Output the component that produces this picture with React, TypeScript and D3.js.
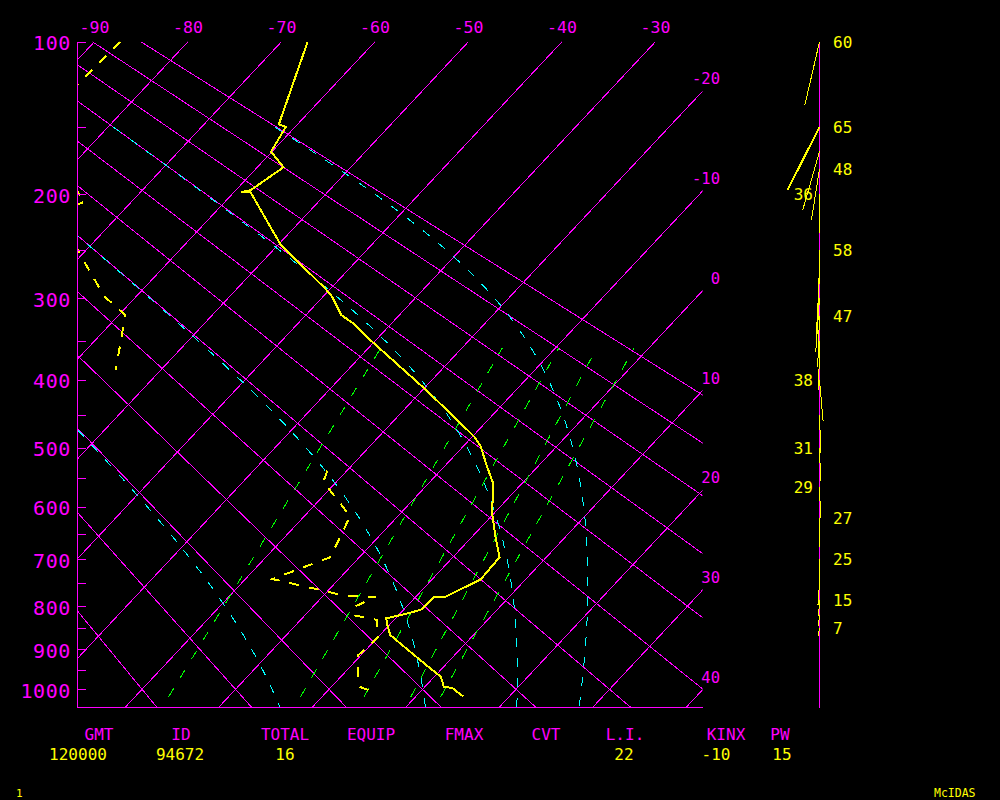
import React from 'react';
import * as d3 from 'd3';

// ---------------- data ----------------
const pressureTicks = [100, 150, 200, 250, 300, 350, 400, 450, 500, 550, 600, 650, 700, 750, 800, 850, 900, 950, 1000];
const pressureLabels = [100, 200, 300, 400, 500, 600, 700, 800, 900, 1000];
const isotherms = [-90, -80, -70, -60, -50, -40, -30, -20, -10, 0, 10, 20, 30, 40];
const dryAdiabats = [-20, -10, 0, 10, 20, 30, 40, 50, 60, 70, 80, 90]; // theta, deg C
const saturatedAdiabats = [0, 30, 60, 90]; // theta-e, deg C
const mixingRatios = [1, 3, 5, 7, 9]; // g/kg
const mixTopT = [-28.7, -15.7, -9.65, -5.6, -1.6]; // at 358 hPa
const mixBottomT = [-16.4, -2.3, 4.5, 9.5, 12.7]; // at 1020 hPa

const tempP = [100, 148.1, 149.7, 167.1, 178.7, 196.6, 198.5, 198.6, 245.2, 289.3, 298.4, 318.9, 330.5, 348.6, 411.5, 456.9, 482.3, 496.8, 533, 558.4, 611.7, 655.7, 696.3, 741.7, 778.7, 778.8, 806.7, 814.4, 827.1, 842.4, 865.6, 905.4, 950.6, 967.5, 993, 997.2, 1019.1];
const tempT = [-67.2, -62.0, -61.0, -60.1, -57.2, -58.4, -59.2, -58.2, -49.7, -40.6, -39.0, -36.2, -33.7, -30.6, -20.0, -13.3, -9.8, -8.2, -5.2, -3.1, -0.2, 2.5, 5.0, 5.2, 3.2, 2.0, 1.9, 1.0, -1.0, -0.2, 1.1, 4.9, 9.1, 10.7, 12.0, 13.1, 15.1];

const dewP = [100, 130, 150, 185, 198, 206, 225, 240, 250, 265, 298, 319, 387, 450, 537, 556, 617, 696, 741, 777, 779, 802, 822, 824, 831, 847, 866, 887, 914, 978, 994, 1002];
const dewT = [-87.2, -87.6, -92, -84, -76.8, -75.0, -78, -76, -70.9, -68.5, -63.4, -59.3, -54.8, null, -22.1, -21.4, -15.1, -13.1, -17.1, -7.6, -4.3, -5.6, -4.5, -3.3, -1.8, -1.1, 0.0, -0.1, -0.3, 2.2, 3.1, 4.3];

const windP = [100, 150, 167, 180, 200, 250, 275, 300, 320, 350, 400, 450, 500, 564, 620, 700, 750, 785, 820, 850];
const windDir = [193, 207, 196, 189, 180, 181, 183, 184, 182, 181, 175, 178, 178, 178, 180, 181, 184, 183, 186, 190];
const windSpd = [60, 65, 56, 48, 36, 58, 55, 50, 47, 45, 38, 35, 31, 29, 27, 25, 20, 15, 10, 7];
const windLabelSide = ['R', 'R', '', 'R', 'L', 'R', '', '', 'R', '', 'L', '', 'L', 'L', 'R', 'R', '', 'R', '', 'R'];

const statNames = ['GMT', 'ID', 'TOTAL', 'EQUIP', 'FMAX', 'CVT', 'L.I.', 'KINX', 'PW'];
const statValues = ['120000', '94672', '16', '', '', '', '22', '-10', '15'];

// ---------------- geometry ----------------
const KAPPA = 0.2857;
const LEFT = 77.5, RIGHT = 702.5, TOP = 41.7, BOTTOM = 707.5;
const WIND_X = 819.5;
const MAGENTA = '#ff00ff', YELLOW = '#ffff00', CYAN = '#00ffff', GREEN = '#00ff00';
const FONT = '"DejaVu Sans Mono", "Liberation Mono", monospace';

const yScale = d3.scalePow().exponent(KAPPA).domain([100, 1000]).range([41.7, 689.3]);
const P_BOTTOM = yScale.invert(BOTTOM);
const tScale = d3.scaleLinear().domain([-20, 0]).range([125, 312]); // x at the bottom edge
const SKEW = 0.9372;
const px = (t: number, p: number) => tScale(t) + SKEW * (BOTTOM - yScale(p));

const line = d3.line<[number, number]>().x(d => px(d[1], d[0])).y(d => yScale(d[0]));
const lineDef = d3.line<[number, number | null]>()
  .defined(d => d[1] !== null)
  .x(d => px(d[1] as number, d[0]))
  .y(d => yScale(d[0]));

function satMix(tC: number, p: number) {
  const es = 6.112 * Math.exp((17.67 * tC) / (tC + 243.5));
  return (0.622 * es) / (p - es);
}
function thetaE(tC: number, p: number) {
  const tk = tC + 273.15;
  return tk * Math.pow(1000 / p, KAPPA) * Math.exp((2.5e6 * satMix(tC, p)) / (1004 * tk));
}
function tOnThetaE(thK: number, p: number) {
  let lo = -130, hi = 50;
  for (let i = 0; i < 50; i++) {
    const mid = (lo + hi) / 2;
    if (thetaE(mid, p) > thK) hi = mid; else lo = mid;
  }
  return (lo + hi) / 2;
}

export default function App() {
  const isoPaths = isotherms.map(t => line([[P_BOTTOM, t], [100, t]]));
  const dryPaths = dryAdiabats.map(th => {
    const k = th + 273.15;
    const t = (p: number) => k * Math.pow(p / 1000, KAPPA) - 273.15;
    return line([[P_BOTTOM, t(P_BOTTOM)], [100, t(100)]]);
  });
  const satPaths = saturatedAdiabats.map(th => {
    const k = th + 273.15;
    const pts: [number, number][] = [];
    for (let p = 150; p <= P_BOTTOM + 5; p += 5) pts.push([p, tOnThetaE(k, p)]);
    return line(pts);
  });
  const mixPaths = mixingRatios.map((_, i) => line([[1020, mixBottomT[i]], [358, mixTopT[i]]]));
  const tempPath = line(tempP.map((p, i) => [p, tempT[i]] as [number, number]));
  const dewPath = lineDef(dewP.map((p, i) => [p, dewT[i]] as [number, number | null]));

  const maxSpd = d3.max(windSpd) as number;
  const windScale = d3.scaleLinear().domain([0, 60]).range([0, 64.8]);

  return (
    <svg width={1000} height={800} style={{ position: 'absolute', left: 0, top: 0, background: '#000' }}
      fontFamily={FONT}>
      <rect x={0} y={0} width={1000} height={800} fill="#000" />
      <defs>
        <clipPath id="plot">
          <rect x={LEFT} y={TOP} width={RIGHT - LEFT} height={BOTTOM - TOP} />
        </clipPath>
      </defs>
      <g clipPath="url(#plot)" fill="none" shapeRendering="crispEdges">
        {isoPaths.map((d, i) => <path key={'i' + i} d={d as string} stroke={MAGENTA} strokeWidth={1} />)}
        {dryPaths.map((d, i) => <path key={'d' + i} d={d as string} stroke={MAGENTA} strokeWidth={1} />)}
        {mixPaths.map((d, i) => <path key={'m' + i} d={d as string} stroke={GREEN} strokeWidth={1} strokeDasharray="10,12" />)}
        {satPaths.map((d, i) => <path key={'s' + i} d={d as string} stroke={CYAN} strokeWidth={1} strokeDasharray="9,11" />)}
        <path d={dewPath as string} stroke={YELLOW} strokeWidth={2} strokeDasharray="10,10" />
        <path d={tempPath as string} stroke={YELLOW} strokeWidth={2} />
      </g>
      {/* axes */}
      <g shapeRendering="crispEdges" stroke={MAGENTA} strokeWidth={1}>
        <line x1={LEFT} y1={TOP} x2={LEFT} y2={BOTTOM} />
        <line x1={LEFT} y1={BOTTOM} x2={RIGHT} y2={BOTTOM} />
        {pressureTicks.map(p => {
          const y = Math.round(yScale(p)) + 0.5;
          return <line key={p} x1={LEFT} y1={y} x2={86} y2={y} />;
        })}
        <line x1={WIND_X} y1={TOP} x2={WIND_X} y2={BOTTOM} />
      </g>
      {/* pressure labels */}
      <g fill={MAGENTA} fontSize={20} textAnchor="end">
        {pressureLabels.map(p => (
          <text key={p} x={71} y={yScale(p) + 8.5} letterSpacing={0.6}>{p}</text>
        ))}
      </g>
      {/* isotherm labels */}
      <g fill={MAGENTA} fontSize={16.5} textAnchor="middle">
        {isotherms.filter(t => t <= -30).map(t => (
          <text key={t} x={px(t, 100)} y={33.3}>{t}</text>
        ))}
      </g>
      <g fill={MAGENTA} fontSize={15.5} textAnchor="end">
        {isotherms.filter(t => t > -30).map(t => {
          const yEnd = BOTTOM - (RIGHT - tScale(t)) / SKEW;
          return <text key={t} x={720} y={yEnd - 7}>{t}</text>;
        })}
      </g>
      {/* winds */}
      <g stroke={YELLOW} shapeRendering="crispEdges">
        {windP.map((p, i) => {
          const y0 = yScale(p);
          const len = windScale(windSpd[i]);
          const a = (windDir[i] * Math.PI) / 180;
          return (
            <line key={p} x1={WIND_X} y1={y0} x2={WIND_X + len * Math.sin(a)} y2={y0 - len * Math.cos(a)}
              strokeWidth={windSpd[i] === maxSpd ? 2 : 1} />
          );
        })}
      </g>
      <g fill={YELLOW} fontSize={16}>
        {windP.map((p, i) => windLabelSide[i] ? (
          <text key={p} x={windLabelSide[i] === 'R' ? 833 : 813} y={yScale(p) + 6}
            textAnchor={windLabelSide[i] === 'R' ? 'start' : 'end'}>{windSpd[i]}</text>
        ) : null)}
      </g>
      {/* stats */}
      <g fontSize={16} textAnchor="middle">
        {statNames.map((s, i) => (
          <text key={s} x={[99, 181, 285, 371, 464, 546, 625, 726, 780][i]} y={740} fill={MAGENTA}>{s}</text>
        ))}
        {statValues.map((s, i) => s ? (
          <text key={'v' + i} x={[78, 180, 285, 371, 464, 546, 624, 716, 782][i]} y={759.5} fill={YELLOW}>{s}</text>
        ) : null)}
      </g>
      <text x={16} y={797} fill={YELLOW} fontSize={11}>1</text>
      <text x={934} y={797} fill={YELLOW} fontSize={11.5}>McIDAS</text>
    </svg>
  );
}
